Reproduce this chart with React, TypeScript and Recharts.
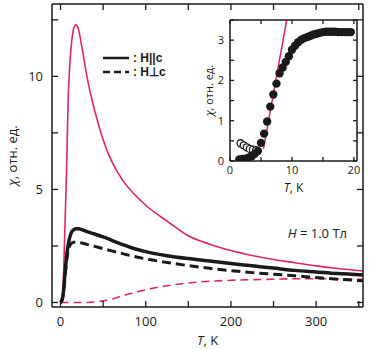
import { ComposedChart, Line, Scatter, XAxis, YAxis } from "recharts";

const FONT = "'Open Sans', 'Liberation Sans', sans-serif";
const RED = "#e0236b";
const INK = "#1a1a1a";

// main panel: temperature grid (K) and chi for the four curves
const tMain = [0, 2, 3, 4, 5, 6, 7, 8, 9, 10, 11, 13, 15, 18, 21, 25, 32, 40, 50, 60, 73, 85, 100, 125, 150, 175, 200, 225, 250, 275, 300, 325, 355];
const chiRed = [0, 0, 0.5, 1.8, 3.1, 4.4, 5.7, 7.4, 9.0, 9.9, 10.6, 11.5, 12.05, 12.28, 12.1, 11.3, 9.8, 8.5, 7.2, 6.25, 5.4, 4.85, 4.3, 3.6, 2.95, 2.58, 2.3, 2.08, 1.9, 1.76, 1.62, 1.5, 1.39];
const chiPar = [0, 0.15, 0.35, 0.7, 1.2, 1.6, 2.0, 2.3, 2.55, 2.75, 2.9, 3.12, 3.2, 3.26, 3.26, 3.22, 3.12, 3.03, 2.9, 2.75, 2.56, 2.4, 2.25, 2.07, 1.94, 1.83, 1.72, 1.62, 1.52, 1.42, 1.35, 1.28, 1.22];
const chiPerp = [0, 0.12, 0.3, 0.6, 1.0, 1.4, 1.75, 2.05, 2.28, 2.42, 2.52, 2.62, 2.66, 2.68, 2.67, 2.63, 2.56, 2.48, 2.38, 2.28, 2.16, 2.05, 1.93, 1.77, 1.63, 1.51, 1.41, 1.32, 1.25, 1.18, 1.1, 1.03, 0.96];
const chiRedDash = [0, 0, 0, 0, 0, 0, 0, 0, 0, 0, 0, 0, 0, 0, 0, 0, 0, 0.02, 0.07, 0.15, 0.3, 0.42, 0.56, 0.74, 0.86, 0.94, 0.98, 1.01, 1.03, 1.05, 1.05, 1.04, 1.02];

const mainXTicks = [0, 50, 100, 150, 200, 250, 300, 350];
const mainYTicks = [0, 2.5, 5, 7.5, 10, 12.5];

// inset: low temperature data
const tInset = [1.5, 2, 2.5, 3, 3.5, 4, 4.5, 5, 5.5, 6, 6.5, 7, 7.5, 8, 8.5, 9, 9.5, 10, 10.5, 11, 11.5, 12, 12.5, 13, 13.5, 14, 14.5, 15, 15.5, 16, 16.5, 17, 17.5, 18, 18.5, 19, 19.5];
const chiInset = [0.04, 0.05, 0.06, 0.08, 0.12, 0.18, 0.25, 0.45, 0.68, 0.98, 1.35, 1.65, 1.92, 2.18, 2.32, 2.46, 2.6, 2.76, 2.86, 2.95, 3.01, 3.05, 3.08, 3.11, 3.14, 3.16, 3.18, 3.2, 3.21, 3.21, 3.21, 3.21, 3.2, 3.2, 3.2, 3.2, 3.2];
const tOpen = [1.7, 2.2, 2.7, 3.2, 3.7, 4.2];
const chiOpen = [0.44, 0.39, 0.34, 0.3, 0.28, 0.27];
const tFit = [5.4, 9.15];
const chiFit = [0.3, 3.5];

const insetXTicks = [0, 5, 10, 15, 20];
const insetYTicks = [0, 0.5, 1, 1.5, 2, 2.5, 3, 3.5];

const pairs = (xs: number[], ys: number[]) => xs.map((x, i) => ({ x, y: ys[i] }));

type Side = "bottom" | "top" | "left" | "right";

function makeTick(side: Side, len: number, labelEvery?: number, fs = 13, gap = 6) {
  return (props: any) => {
    const { x, y, payload } = props;
    const v: number = payload.value;
    const show = labelEvery !== undefined && Math.abs(v / labelEvery - Math.round(v / labelEvery)) < 1e-6;
    let line;
    let label = null;
    if (side === "bottom") {
      line = <line x1={x} x2={x} y1={y} y2={y - len} />;
      if (show) label = <text x={x} y={y + gap} textAnchor="middle">{v}</text>;
    } else if (side === "top") {
      line = <line x1={x} x2={x} y1={y} y2={y + len} />;
    } else if (side === "left") {
      line = <line x1={x} x2={x + len} y1={y} y2={y} />;
      if (show) label = <text x={x - gap} y={y + fs * 0.36} textAnchor="end">{v}</text>;
    } else {
      line = <line x1={x} x2={x - len} y1={y} y2={y} />;
    }
    return (
      <g stroke={INK} strokeWidth={1.3}>
        {line}
        {label && (
          <g stroke="none" fill={INK} fontSize={fs} fontFamily={FONT}>
            {label}
          </g>
        )}
      </g>
    );
  };
}

const axisLine = { stroke: INK, strokeWidth: 1.5 };

function xTitle(dy: number, fs: number) {
  return (props: any) => {
    const vb = props.viewBox || {};
    return (
      <text x={vb.x + vb.width / 2} y={vb.y + dy} textAnchor="middle" fontSize={fs} fontFamily={FONT} fill={INK}>
        <tspan fontStyle="italic">T</tspan>, K
      </text>
    );
  };
}

function yTitle(dx: number, fs: number) {
  return (props: any) => {
    const vb = props.viewBox || {};
    const cx = vb.x + dx;
    const cy = vb.y + vb.height / 2;
    return (
      <text x={cx} y={cy} transform={`rotate(-90 ${cx} ${cy})`} textAnchor="middle" dominantBaseline="central" fontSize={fs} fontFamily={FONT} fill={INK}>
        <tspan fontStyle="italic">χ</tspan>, отн. ед.
      </text>
    );
  };
}

function Legend() {
  const rows = [
    { dash: undefined, text: ": H||c" },
    { dash: "7 4", text: ": H⊥c" },
  ];
  return (
    <div style={{ position: "absolute", left: 103, top: 51, fontFamily: "'Liberation Sans', Arial, sans-serif", fontSize: 12, lineHeight: "13px", fontWeight: 700, color: INK }}>
      {rows.map((r) => (
        <div key={r.text} style={{ display: "flex", alignItems: "center", height: 14 }}>
          <svg width={26} height={14} style={{ display: "block" }}>
            <line x1={0} x2={26} y1={7} y2={7} stroke={INK} strokeWidth={2.5} strokeDasharray={r.dash} />
          </svg>
          <span style={{ marginLeft: 4 }}>{r.text}</span>
        </div>
      ))}
    </div>
  );
}

// mirrored top/right axes giving the closed frame with inward ticks
function frameAxes(domX: number[], domY: number[], xt: number[], yt: number[], len: number) {
  return [
    <XAxis
      key="xt"
      xAxisId="t"
      orientation="top"
      type="number"
      dataKey="x"
      domain={domX}
      ticks={xt}
      interval={0}
      allowDataOverflow
      height={1}
      tickSize={0}
      tickMargin={0}
      axisLine={axisLine}
      tick={makeTick("top", len)}
    />,
    <YAxis
      key="yr"
      yAxisId="r"
      orientation="right"
      type="number"
      domain={domY}
      ticks={yt}
      interval={0}
      allowDataOverflow
      width={1}
      tickSize={0}
      tickMargin={0}
      axisLine={axisLine}
      tick={makeTick("right", len)}
    />,
  ];
}

export default function App() {
  const mainDomX = [-10, 355];
  const mainDomY = [-0.2, 13.2];
  const insetDomX = [0, 20.5];
  const insetDomY = [0, 3.5];
  return (
    <div style={{ position: "absolute", left: 0, top: 0, width: 371, height: 350, background: "#fff" }}>
      <ComposedChart width={371} height={350} margin={{ top: 3, right: 7, bottom: 0, left: 0 }}>
        <XAxis
          xAxisId="b"
          dataKey="x"
          type="number"
          domain={mainDomX}
          ticks={mainXTicks}
          interval={0}
          allowDataOverflow
          height={43}
          tickSize={0}
          tickMargin={0}
          axisLine={axisLine}
          tick={makeTick("bottom", 6, 100, 13, 19)}
          label={xTitle(38, 13)}
        />
        <YAxis
          yAxisId="l"
          type="number"
          domain={mainDomY}
          ticks={mainYTicks}
          interval={0}
          allowDataOverflow
          width={52}
          tickSize={0}
          tickMargin={0}
          axisLine={axisLine}
          tick={makeTick("left", 6, 5, 13, 9)}
          label={yTitle(12, 13)}
        />
        {frameAxes(mainDomX, mainDomY, mainXTicks, mainYTicks, 6)}
        {/* red dashed shares identical domains, so it also anchors the top/right frame axes */}
        <Line xAxisId="t" yAxisId="r" data={pairs(tMain, chiRedDash)} dataKey="y" type="monotone" stroke={RED} strokeWidth={1.6} strokeDasharray="8 5" dot={false} isAnimationActive={false} />
        <Line xAxisId="b" yAxisId="l" data={pairs(tMain, chiRed)} dataKey="y" type="monotone" stroke={RED} strokeWidth={1.6} dot={false} isAnimationActive={false} />
        <Line xAxisId="b" yAxisId="l" data={pairs(tMain, chiPerp)} dataKey="y" type="monotone" stroke={INK} strokeWidth={3} strokeDasharray="9 5" dot={false} isAnimationActive={false} />
        <Line xAxisId="b" yAxisId="l" data={pairs(tMain, chiPar)} dataKey="y" type="monotone" stroke={INK} strokeWidth={3.5} dot={false} isAnimationActive={false} />
      </ComposedChart>

      <Legend />

      <div style={{ position: "absolute", right: 24, top: 224, fontFamily: FONT, fontSize: 13, color: INK, whiteSpace: "nowrap" }}>
        <i>H</i> = 1.0 Тл
      </div>

      <div style={{ position: "absolute", left: 195, top: 10 }}>
        <ComposedChart width={165} height={190} margin={{ top: 9, right: 2, bottom: 0, left: 0 }}>
          <XAxis
            xAxisId="b"
            dataKey="x"
            type="number"
            domain={insetDomX}
            ticks={insetXTicks}
            interval={0}
            allowDataOverflow
            height={39}
            tickSize={0}
            tickMargin={0}
            axisLine={axisLine}
            tick={makeTick("bottom", 4, 10, 11, 13)}
            label={xTitle(31, 12)}
          />
          <YAxis
            yAxisId="l"
            type="number"
            domain={insetDomY}
            ticks={insetYTicks}
            interval={0}
            allowDataOverflow
            width={35}
            tickSize={0}
            tickMargin={0}
            axisLine={axisLine}
            tick={makeTick("left", 4, 1, 11, 6)}
            label={yTitle(13, 11)}
          />
          {frameAxes(insetDomX, insetDomY, insetXTicks, insetYTicks, 4)}
          <Line xAxisId="t" yAxisId="r" data={pairs(tFit, chiFit)} dataKey="y" type="linear" stroke={RED} strokeWidth={1.5} dot={false} isAnimationActive={false} />
          <Scatter xAxisId="b" yAxisId="l" data={pairs(tOpen, chiOpen)} dataKey="y" shape={(p: any) => <circle cx={p.cx} cy={p.cy} r={3.5} fill="#fff" stroke={INK} strokeWidth={1.3} />} isAnimationActive={false} />
          <Scatter xAxisId="b" yAxisId="l" data={pairs(tInset, chiInset)} dataKey="y" shape={(p: any) => <circle cx={p.cx} cy={p.cy} r={4.2} fill={INK} />} isAnimationActive={false} />
        </ComposedChart>
      </div>
    </div>
  );
}
